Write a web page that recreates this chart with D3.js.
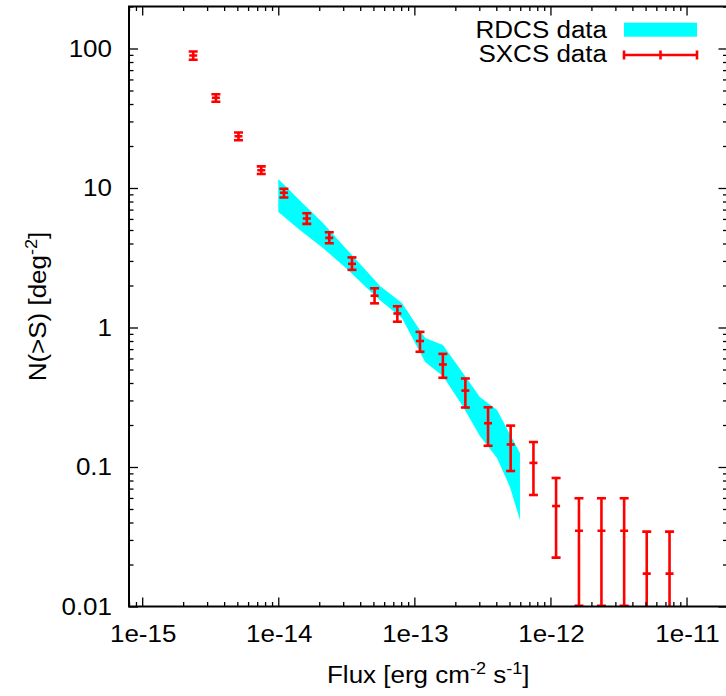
<!DOCTYPE html>
<html>
<head>
<meta charset="utf-8">
<script src="https://cdn.jsdelivr.net/npm/d3@7"></script>
<style>
body { margin: 0; background: #fff; }
svg { display: block; }
text { font-family: "Liberation Sans", Arial, sans-serif; font-size: 23px; fill: #000; }
</style>
</head>
<body>
<svg id="chart" width="726" height="696"></svg>
<script>
// SXCS counts N(>S), with error bar ends
const sxcsFlux = [2.37e-15, 3.48e-15, 5.1e-15, 7.5e-15, 1.1e-14, 1.62e-14, 2.37e-14, 3.48e-14, 5.1e-14, 7.5e-14, 1.1e-13,
                  1.62e-13, 2.37e-13, 3.48e-13, 5.1e-13, 7.5e-13, 1.1e-12, 1.62e-12, 2.37e-12, 3.48e-12, 5.1e-12, 7.5e-12];
const sxcsN    = [89.1, 44.4, 23.5, 13.4, 9.25, 6.04, 4.39, 2.86, 1.69, 1.26, 0.80,
                  0.543, 0.353, 0.206, 0.145, 0.107, 0.0525, 0.0349, 0.0349, 0.0349, 0.0172, 0.0172];
const sxcsLow  = [83.0, 41.5, 22.0, 12.6, 8.55, 5.53, 4.02, 2.59, 1.49, 1.10, 0.67,
                  0.436, 0.267, 0.142, 0.0936, 0.063, 0.0224, 0.0101, 0.0101, 0.0101, 0, 0];
const sxcsHigh = [95.2, 47.0, 25.0, 14.3, 9.87, 6.59, 4.82, 3.18, 1.91, 1.42, 0.93,
                  0.647, 0.431, 0.268, 0.198, 0.151, 0.0834, 0.0597, 0.0597, 0.0597, 0.0344, 0.0344];

// RDCS band (lower / upper edge)
const rdcsFlux = [1.0e-14, 1.44e-14, 2.13e-14, 3.14e-14, 4.64e-14, 5.59e-14, 8.11e-14,
                  1.20e-13, 1.62e-13, 2.24e-13, 3.03e-13, 4.05e-13, 5.04e-13, 5.97e-13];
const rdcsHigh = [11.6, 8.12, 5.61, 3.69, 2.43, 1.98, 1.50, 0.841, 0.749, 0.482, 0.318, 0.256, 0.172, 0.126];
const rdcsLow  = [6.73, 5.0, 3.71, 2.67, 1.86, 1.57, 1.17, 0.566, 0.449, 0.278, 0.167, 0.116, 0.072, 0.0417];

const xTicks = [1e-15, 1e-14, 1e-13, 1e-12, 1e-11];
const xTickLabels = ['1e-15', '1e-14', '1e-13', '1e-12', '1e-11'];
const yTicks = [0.01, 0.1, 1, 10, 100];
const yTickLabels = ['0.01', '0.1', '1', '10', '100'];

const svg = d3.select('#chart');

const pLeft = 129, pRight = 727.5, pTop = 6.5, pBottom = 606.5;
const stretch = 1.13;

const x = d3.scaleLog().domain([8e-16, 2e-11]).range([pLeft, pRight]);
const y = d3.scaleLog().domain([0.01, 200]).range([pBottom, pTop]);

const red = '#ff0000', cyan = '#00ffff';

// text helper, glyphs a bit wider than Liberation Sans
const label = (g, px, py, anchor, rot) => g.append('text')
    .attr('transform', `translate(${px},${py})` + (rot ? ` rotate(${rot})` : '') + ` scale(${stretch},1)`)
    .attr('text-anchor', anchor);

svg.append('clipPath').attr('id', 'plotclip')
  .append('rect')
    .attr('x', pLeft).attr('y', pTop)
    .attr('width', pRight - pLeft).attr('height', pBottom - pTop);

const plot = svg.append('g').attr('clip-path', 'url(#plotclip)');

// RDCS band
const band = rdcsFlux.map((f, i) => ({f, lo: rdcsLow[i], hi: rdcsHigh[i]}));
plot.append('path')
    .datum(band)
    .attr('fill', cyan)
    .attr('d', d3.area()
        .x(d => x(d.f))
        .y0(d => y(d.lo))
        .y1(d => y(d.hi)));

// SXCS error bars
const pts = sxcsFlux.map((f, i) => ({f, n: sxcsN[i], lo: sxcsLow[i], hi: sxcsHigh[i]}));
const capW = 4.5, dotW = 4;
const bars = plot.selectAll('g.bar')
    .data(pts)
  .enter().append('g')
    .attr('class', 'bar')
    .attr('stroke', red)
    .attr('stroke-width', 2.6);

bars.append('line')
    .attr('x1', d => x(d.f)).attr('x2', d => x(d.f))
    .attr('y1', d => y(Math.max(d.lo, 0.005)))
    .attr('y2', d => y(d.hi));
bars.append('line')
    .attr('x1', d => x(d.f) - capW).attr('x2', d => x(d.f) + capW)
    .attr('y1', d => y(d.hi)).attr('y2', d => y(d.hi));
bars.filter(d => d.lo >= 0.01).append('line')
    .attr('x1', d => x(d.f) - capW).attr('x2', d => x(d.f) + capW)
    .attr('y1', d => y(d.lo)).attr('y2', d => y(d.lo));
bars.append('line')
    .attr('x1', d => x(d.f) - dotW).attr('x2', d => x(d.f) + dotW)
    .attr('y1', d => y(d.n)).attr('y2', d => y(d.n));

// axes: ticks inward on all four sides
const major = v => Math.abs(Math.log10(v) - Math.round(Math.log10(v))) < 1e-6;
const xMinor = x.ticks().filter(v => !major(v));
const yMinor = y.ticks().filter(v => !major(v));

const drawTicks = (axis, tx, ty) => {
    const g = svg.append('g').attr('transform', `translate(${tx},${ty})`).call(axis);
    g.select('.domain').remove();
    g.selectAll('line').attr('stroke', '#000').attr('stroke-width', 1.3);
    g.selectAll('text').remove();
};
drawTicks(d3.axisBottom(x).tickValues(xTicks).tickSize(-9), 0, pBottom);
drawTicks(d3.axisBottom(x).tickValues(xMinor).tickSize(-4.5), 0, pBottom);
drawTicks(d3.axisTop(x).tickValues(xTicks).tickSize(-9), 0, pTop);
drawTicks(d3.axisTop(x).tickValues(xMinor).tickSize(-4.5), 0, pTop);
drawTicks(d3.axisLeft(y).tickValues(yTicks).tickSize(-9), pLeft, 0);
drawTicks(d3.axisLeft(y).tickValues(yMinor).tickSize(-4.5), pLeft, 0);
drawTicks(d3.axisRight(y).tickValues(yTicks).tickSize(-9), pRight, 0);
drawTicks(d3.axisRight(y).tickValues(yMinor).tickSize(-4.5), pRight, 0);

svg.append('rect')
    .attr('x', pLeft).attr('y', pTop)
    .attr('width', pRight - pLeft).attr('height', pBottom - pTop)
    .attr('fill', 'none')
    .attr('stroke', '#000')
    .attr('stroke-width', 2);

// tick labels
xTicks.forEach((v, i) => label(svg, x(v) + 1, 642, 'middle').text(xTickLabels[i]));
yTicks.forEach((v, i) => label(svg, 112, y(v) + 8.3, 'end').text(yTickLabels[i]));

// axis titles
const xt = label(svg, (pLeft + pRight) / 2, 683, 'middle');
xt.append('tspan').text('Flux [erg cm');
xt.append('tspan').attr('dy', -9).style('font-size', '16px').text('-2');
xt.append('tspan').attr('dy', 9).text(' s');
xt.append('tspan').attr('dy', -9).style('font-size', '16px').text('-1');
xt.append('tspan').attr('dy', 9).text(']');

const yt = label(svg, 46, (pTop + pBottom) / 2, 'middle', -90);
yt.append('tspan').text('N(>S) [deg');
yt.append('tspan').attr('dy', -9).style('font-size', '16px').text('-2');
yt.append('tspan').attr('dy', 9).text(']');

// legend
const legX0 = 624, legX1 = 697;
label(svg, 607, 37.5, 'end').text('RDCS data');
svg.append('rect')
    .attr('x', legX0).attr('y', 22.7)
    .attr('width', legX1 - legX0).attr('height', 14)
    .attr('fill', cyan);

label(svg, 607, 62.3, 'end').text('SXCS data');
const leg = svg.append('g').attr('stroke', red).attr('stroke-width', 2.6);
leg.append('line').attr('x1', legX0).attr('x2', legX1).attr('y1', 55).attr('y2', 55);
[legX0, (legX0 + legX1) / 2, legX1].forEach(px => {
    leg.append('line').attr('x1', px).attr('x2', px).attr('y1', 50.5).attr('y2', 59.5);
});
</script>
</body>
</html>
